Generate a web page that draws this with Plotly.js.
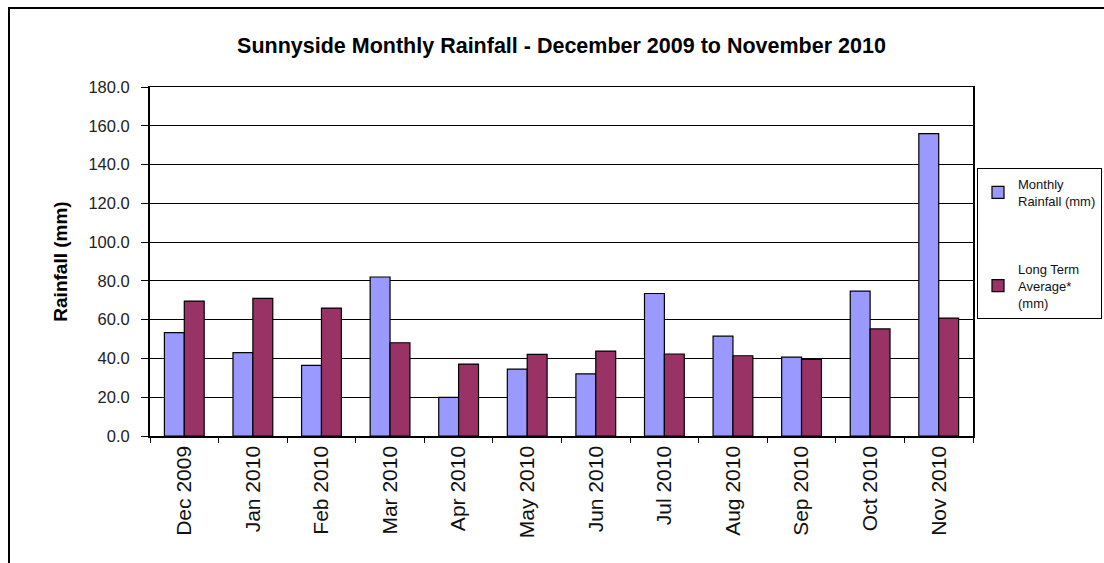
<!DOCTYPE html>
<html>
<head>
<meta charset="utf-8">
<script src="https://cdn.plot.ly/plotly-3.0.1.min.js"></script>
<style>
html,body{margin:0;padding:0;background:#fff;}
#chart{width:1104px;height:563px;}
</style>
</head>
<body>
<div id="chart"></div>
<script>
const months = ["Dec 2009","Jan 2010","Feb 2010","Mar 2010","Apr 2010","May 2010","Jun 2010","Jul 2010","Aug 2010","Sep 2010","Oct 2010","Nov 2010"];
const monthlyRainfall = [53.3, 43.0, 36.4, 82.0, 19.9, 34.5, 32.0, 73.5, 51.5, 40.7, 74.7, 156.0];
const longTermAverage = [69.6, 71.0, 66.0, 48.1, 37.1, 42.1, 43.8, 42.3, 41.4, 39.5, 55.2, 60.8];
const yTicks = [0, 20, 40, 60, 80, 100, 120, 140, 160, 180];

const traces = [
  {type:'bar', name:'Monthly<br>Rainfall (mm)', x:months, y:monthlyRainfall, legendgroup:'a',
   marker:{color:'#9999FF', line:{color:'#000', width:1.2}}},
  {type:'bar', name:'Long Term<br>Average*<br>(mm)', x:months, y:longTermAverage, legendgroup:'b',
   marker:{color:'#993366', line:{color:'#000', width:1.2}}}
];

const layout = {
  width:1104, height:563,
  paper_bgcolor:'#fff', plot_bgcolor:'#fff',
  margin:{l:150, r:131, t:87, b:127, autoexpand:false},
  font:{family:'Liberation Sans, Arial, sans-serif', color:'#111'},
  title:{text:'<b>Sunnyside Monthly Rainfall - December 2009 to November 2010</b>',
         font:{size:21.5, color:'#000'}, x:0.5, xref:'paper', y:1-45/563, yref:'container',
         xanchor:'center', yanchor:'middle'},
  barmode:'group', bargap:0.42, bargroupgap:0,
  xaxis:{type:'category', tickangle:-90, tickson:'boundaries', ticks:'outside', ticklen:5,
         tickcolor:'#000', showline:true, linecolor:'#000', linewidth:1.5, mirror:true,
         showgrid:false, tickfont:{size:21, color:'#111'}},
  yaxis:{range:[0,180], tickvals:yTicks, tickformat:'.1f', ticks:'outside', ticklen:7,
         ticklabelstandoff:8,
         tickcolor:'#000', showline:true, linecolor:'#000', linewidth:2, mirror:true,
         showgrid:true, gridcolor:'#000', gridwidth:1, zeroline:false,
         tickfont:{size:16.5, color:'#222'},
         title:{text:'<b>Rainfall (mm)</b>', font:{size:19, color:'#000'}, standoff:16}},
  legend:{x:(977-150)/823, y:(436-168)/349, xanchor:'left', yanchor:'top', bordercolor:'#000', borderwidth:1,
          bgcolor:'#fff', font:{size:13, color:'#111'}, traceorder:'grouped', tracegroupgap:48,
          itemwidth:30},
  shapes:[
    {type:'rect', xref:'paper', yref:'paper', x0:(9-150)/823, x1:(1120-150)/823,
     y0:(436-580)/349, y1:(436-8)/349, line:{color:'#000', width:2}, fillcolor:'rgba(0,0,0,0)', layer:'below'}
  ],
  showlegend:true
};

Plotly.newPlot('chart', traces, layout, {displayModeBar:false, staticPlot:true});
</script>
</body>
</html>
